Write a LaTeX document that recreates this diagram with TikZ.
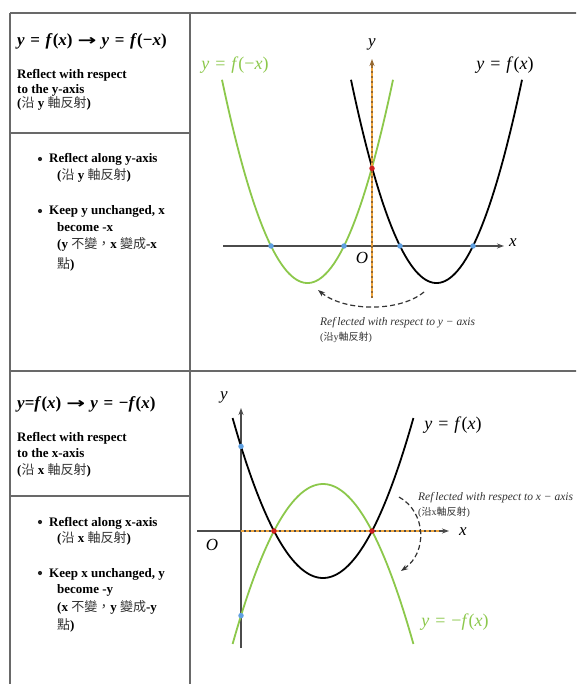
\documentclass[tikz,border=0pt]{standalone}
\usepackage{fontspec}
\usepackage{graphicx}
\setmainfont{Liberation Serif}
\newfontfamily\cjk{Noto Sans CJK TC}
\newfontfamily\djv{DejaVu Sans}
\usetikzlibrary{arrows.meta}
\definecolor{gline}{RGB}{105,105,105}
\definecolor{cgreen}{RGB}{140,200,75}
\definecolor{cblue}{RGB}{95,160,225}
\definecolor{cred}{RGB}{205,30,30}
\definecolor{corange}{RGB}{240,165,60}
\definecolor{cbrown}{RGB}{150,105,50}
\definecolor{caxis}{RGB}{75,75,75}
\newcommand{\zh}[1]{{\cjk\mdseries\color{black!80}#1}}
\newcommand{\mi}[1]{\textit{#1}}
\newcommand{\eqs}{\hspace{0.33em}=\hspace{0.33em}}
\newcommand{\harrow}{\hspace{0.3em}\scalebox{1.5}[1]{\djv\bfseries\fontsize{15}{15}\selectfont →}\hspace{0.3em}}
\begin{document}
\begin{tikzpicture}[x=1pt,y=-1pt,
  tbl/.style={draw=gline, line width=1.3pt},
  txt/.style={anchor=base west, inner sep=0pt, font=\fontsize{13}{15}\selectfont\bfseries},
  hdr/.style={anchor=base west, inner sep=0pt, font=\fontsize{17}{19}\selectfont\bfseries},
  bul/.style={circle, fill=black!85, inner sep=0pt, minimum size=4.2pt},
  glab/.style={inner sep=0pt, font=\fontsize{18}{20}\selectfont},
  alab/.style={inner sep=0pt, font=\fontsize{17}{19}\selectfont},
  note/.style={anchor=base west, inner sep=0pt, font=\fontsize{11.5}{12}\selectfont\itshape, text=black!80},
  notezh/.style={anchor=base west, inner sep=0pt, font=\fontsize{10}{12}\selectfont, text=black!80},
  axis/.style={draw=caxis, line width=1.4pt, -{Stealth[length=7pt,width=5pt]}},
  curveb/.style={draw=black, line width=1.8pt},
  curveg/.style={draw=cgreen, line width=1.8pt},
  dot/.style={circle, inner sep=0pt, minimum size=5.5pt},
  refl/.style={draw=black!80, line width=1.2pt, dash pattern=on 5pt off 3pt, -{Stealth[length=7pt,width=5pt]}}
]
\useasboundingbox (0,0) rectangle (576,684);
\clip (0,0) rectangle (576,684);
\fill[white] (0,0) rectangle (576,684);

% ---------- table ----------
\draw[tbl] (10,13) -- (580,13);
\draw[tbl] (10,13) -- (10,690);
\draw[tbl] (190,13) -- (190,690);
\draw[tbl] (10,133) -- (190,133);
\draw[tbl] (10,371) -- (580,371);
\draw[tbl] (10,496) -- (190,496);

% ---------- row 1 ----------
\node[hdr] (h1) at (17,46) {\mi{y}\eqs\mi{f}(\mi{x})\harrow\mi{y}\eqs\mi{f}(−\mi{x})};
\node[txt] (r1a) at (17,79) {Reflect with respect};
\node[txt] (r1b) at (17,94) {to the y-axis};
\node[txt] (r1c) at (17,108) {(\zh{沿} y \zh{軸反射})};

% ---------- row 2 ----------
\node[bul] (b2a) at (40,159) {};
\node[txt] (r2a) at (49,163) {Reflect along y-axis};
\node[txt] (r2b) at (57,180) {(\zh{沿} y \zh{軸反射})};
\node[bul] (b2b) at (40,211) {};
\node[txt] (r2c) at (49,215) {Keep y unchanged, x};
\node[txt] (r2d) at (57,232) {become -x};
\node[txt] (r2e) at (57,249) {(y \zh{不變，}x \zh{變成}-x};
\node[txt] (r2f) at (57,268) {\zh{點})};

% ---------- row 3 ----------
\node[hdr] (h3) at (17,408) {\mi{y}=\mi{f}(\mi{x})\harrow\mi{y}\eqs−\mi{f}(\mi{x})};
\node[txt] (r3a) at (17,441) {Reflect with respect};
\node[txt] (r3b) at (17,457) {to the x-axis};
\node[txt] (r3c) at (17,474) {(\zh{沿} x \zh{軸反射})};

% ---------- row 4 ----------
\node[bul] (b4a) at (40,522) {};
\node[txt] (r4a) at (49,526) {Reflect along x-axis};
\node[txt] (r4b) at (57,542) {(\zh{沿} x \zh{軸反射})};
\node[bul] (b4b) at (40,573) {};
\node[txt] (r4c) at (49,577) {Keep x unchanged, y};
\node[txt] (r4d) at (57,593) {become -y};
\node[txt] (r4e) at (57,611) {(x \zh{不變，}y \zh{變成}-y};
\node[txt] (r4f) at (57,629) {\zh{點})};

% ---------- top graph ----------
\coordinate (xa1) at (223,246);
\coordinate (xa2) at (504,246);
\draw[axis] (xa1) -- (xa2);
\node[alab] (xl1) at (513,243) {\mi{x}};
\node[alab] (ol1) at (362,258) {\mi{O}};
\draw[curveg] plot[smooth, samples=70, domain=222:393] (\x, {246 - 0.0278*(344-\x)*(271-\x)});
\draw[curveb] plot[smooth, samples=70, domain=351:522] (\x, {246 - 0.0278*(\x-400)*(\x-473)});
\coordinate (ya1) at (372,298);
\coordinate (ya2) at (372,59);
\draw[draw=cbrown, line width=1.8pt, -{Stealth[length=7pt,width=5pt]}] (ya1) -- (ya2);
\draw[draw=corange, line width=1.2pt, dash pattern=on 3pt off 2pt] (372,296) -- (372,66);
\node[alab] (yl1) at (372,44) {\mi{y}};
\node[dot, fill=cblue] (p1) at (271,246) {};
\node[dot, fill=cblue] (p2) at (344,246) {};
\node[dot, fill=cblue] (p3) at (400,246) {};
\node[dot, fill=cblue] (p4) at (473,246) {};
\node[dot, fill=cred] (p5) at (372,168.4) {};
\node[glab, text=cgreen] (lg1) at (235,65) {\mi{y}\eqs\mi{f}(−\mi{x})};
\node[glab] (lb1) at (505,65) {\mi{y}\eqs\mi{f}(\mi{x})};
\coordinate (ra1) at (424,292);
\coordinate (ra2) at (318,290);
\draw[refl] (ra1) .. controls (400,312) and (345,312) .. (ra2);
\node[note] (n1) at (320,325) {Ref\,lected with respect to y − axis};
\node[notezh] (n1z) at (320,340) {(\zh{沿}y\zh{軸反射})};

% ---------- bottom graph ----------
\coordinate (ya3) at (241,648);
\coordinate (ya4) at (241,408);
\draw[axis] (ya3) -- (ya4);
\node[alab] (yl2) at (224,397) {\mi{y}};
\coordinate (xa3) at (197,531);
\coordinate (xa4) at (449,531);
\draw[axis] (xa3) -- (xa4);
\draw[draw=corange, line width=1.2pt, dash pattern=on 3pt off 2pt] (241,531) -- (440,531);
\node[alab] (xl2) at (463,532) {\mi{x}};
\node[alab] (ol2) at (212,545) {\mi{O}};
\draw[curveb] plot[smooth, samples=70, domain=232.6:413.4] (\x, {531 - 0.01958*(\x-274)*(\x-372)});
\draw[curveg] plot[smooth, samples=70, domain=232.6:413.4] (\x, {531 + 0.01958*(\x-274)*(\x-372)});
\node[dot, fill=cblue] (q1) at (241,446.4) {};
\node[dot, fill=cblue] (q2) at (241,615.6) {};
\node[dot, fill=cred] (q3) at (274,531) {};
\node[dot, fill=cred] (q4) at (372,531) {};
\node[glab] (lb2) at (453,425) {\mi{y}\eqs\mi{f}(\mi{x})};
\node[glab, text=cgreen] (lg2) at (455,622) {\mi{y}\eqs−\mi{f}(\mi{x})};
\coordinate (rb1) at (399,497);
\coordinate (rb2) at (401,571);
\draw[refl] (rb1) .. controls (426,512) and (428,552) .. (rb2);
\node[note] (n2) at (418,500) {Ref\,lected with respect to x − axis};
\node[notezh] (n2z) at (418,515) {(\zh{沿}x\zh{軸反射})};
\end{tikzpicture}
\end{document}
